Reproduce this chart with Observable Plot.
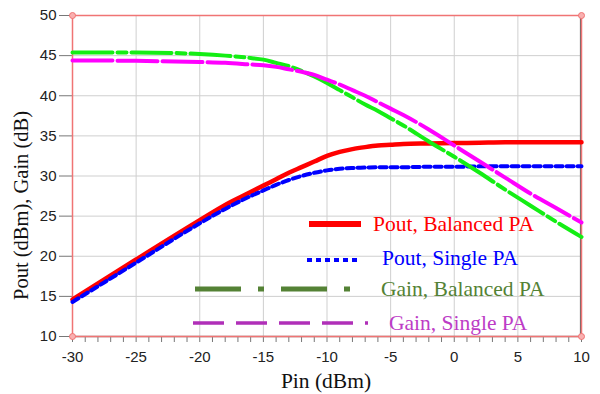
<!DOCTYPE html>
<html>
<head>
<meta charset="utf-8">
<script src="https://cdn.jsdelivr.net/npm/d3@7"></script>
<script src="https://cdn.jsdelivr.net/npm/@observablehq/plot@0.6"></script>
<style>
  html, body { margin: 0; padding: 0; background: #fff; }
  #chart { width: 600px; height: 394px; }
  svg [aria-label="x-axis tick"], svg [aria-label="y-axis tick"] { stroke: #777; }
  svg [aria-label="x-axis tick label"], svg [aria-label="y-axis tick label"] { fill: #222; }
</style>
</head>
<body>
<div id="chart"></div>
<script>
// ---- data ----
const pin = [-30, -25, -20, -18, -16, -15, -14, -13, -12, -11, -10, -9, -8, -7, -6, -5, -4, -2, 0, 2, 4, 6, 8, 10];
const poutBalanced = [14.6, 19.6, 24.5, 26.4, 28.0, 28.8, 29.6, 30.4, 31.1, 31.8, 32.5, 33.0, 33.35, 33.6, 33.8, 33.9, 34.0, 34.05, 34.1, 34.15, 34.2, 34.2, 34.2, 34.2];
const poutSingle   = [14.3, 19.2, 24.1, 25.9, 27.5, 28.2, 28.9, 29.5, 30.0, 30.4, 30.7, 30.9, 31.0, 31.05, 31.1, 31.1, 31.1, 31.15, 31.15, 31.2, 31.2, 31.2, 31.2, 31.2];
const gainBalanced = [45.4, 45.4, 45.2, 45.0, 44.7, 44.5, 44.1, 43.7, 43.1, 42.4, 41.6, 40.7, 39.8, 38.9, 38.1, 37.2, 36.3, 34.3, 32.4, 30.4, 28.3, 26.3, 24.3, 22.4];
const gainSingle   = [44.4, 44.35, 44.2, 44.1, 43.9, 43.8, 43.6, 43.3, 43.0, 42.6, 42.0, 41.4, 40.7, 40.0, 39.2, 38.4, 37.6, 35.8, 33.8, 31.8, 29.8, 27.8, 26.0, 24.2];
const seriesNames = ["Pout, Balanced PA", "Pout, Single PA", "Gain, Balanced PA", "Gain, Single PA"];
const xDomain = [-30, 10];
const yDomain = [10, 50];
const xTickLabels = [-30, -25, -20, -15, -10, -5, 0, 5, 10];
const yTickLabels = [10, 15, 20, 25, 30, 35, 40, 45, 50];
const xTitle = "Pin (dBm)";
const yTitle = "Pout (dBm), Gain (dB)";

// ---- tables built from the arrays ----
const rows = pin.map((p, i) => ({pin: p, pb: poutBalanced[i], ps: poutSingle[i], gb: gainBalanced[i], gs: gainSingle[i]}));
const corners = [];
for (const x of xDomain) for (const y of yDomain) corners.push({x, y});
const minorX = d3.range(xDomain[0], xDomain[1] + 1, 1);

const serif = "'Liberation Serif', 'Times New Roman', serif";
const frameColor = "#f07474";

const chart = Plot.plot({
  width: 600,
  height: 394,
  marginLeft: 72,
  marginRight: 19,
  marginTop: 15,
  marginBottom: 58,
  style: {fontFamily: "'Liberation Sans', Arial, sans-serif", fontSize: "15px", background: "#fff", overflow: "visible"},
  x: {domain: xDomain},
  y: {domain: yDomain},
  marks: [
    Plot.gridX(xTickLabels, {stroke: "#cfcfcf", strokeOpacity: 1, strokeWidth: 1}),
    Plot.gridY(yTickLabels, {stroke: "#cfcfcf", strokeOpacity: 1, strokeWidth: 1}),
    Plot.axisX({ticks: minorX, tickSize: 6, tickPadding: 9, fontSize: 15,
      tickFormat: d => (d % 5 === 0 ? String(d) : ""), label: null}),
    Plot.axisY({ticks: yTickLabels, tickSize: 13, tickPadding: 3, fontSize: 15,
      tickFormat: d => String(d), label: null}),
    Plot.ruleY([yDomain[0]], {stroke: "#888", strokeWidth: 1.5}),
    Plot.ruleX([xDomain[1]], {stroke: "#666", strokeWidth: 1.2, dx: -1}),
    Plot.frame({stroke: frameColor, strokeWidth: 1.5}),
    Plot.line(rows, {x: "pin", y: "pb", curve: "monotone-x", stroke: "#ff0000", strokeWidth: 4.5}),
    Plot.line(rows, {x: "pin", y: "ps", curve: "monotone-x", stroke: "#0000ff", strokeWidth: 4, strokeDasharray: "7,4"}),
    Plot.line(rows, {x: "pin", y: "gb", curve: "monotone-x", stroke: "#14ee14", strokeWidth: 4, strokeDasharray: "40,5,9,5"}),
    Plot.line(rows, {x: "pin", y: "gs", curve: "monotone-x", stroke: "#ff00ff", strokeWidth: 4, strokeDasharray: "40,5"}),
    Plot.dot(corners, {x: "x", y: "y", r: 3, stroke: frameColor, fill: "#f9b0b0", strokeWidth: 1}),
    Plot.text([xTitle], {frameAnchor: "bottom", lineAnchor: "bottom", textAnchor: "middle", dy: 51, dx: -1,
      fontFamily: serif, fontSize: 21.5, fill: "#111"}),
    Plot.text([yTitle], {frameAnchor: "left", textAnchor: "middle", rotate: -90, dx: -51, dy: 29.5,
      fontFamily: serif, fontSize: 20.5, fill: "#111"})
  ]
});

document.getElementById("chart").appendChild(chart);

// ---- legend (drawn inside the plot area, as in the reference) ----
const svg = d3.select(chart);
const legend = svg.append("g").attr("font-family", serif).attr("font-size", 21.5).attr("text-anchor", "start");
const legendItems = [
  {name: seriesNames[0], line: "#ff0000", text: "#ff0000", x1: 309, x2: 361, ly: 224, w: 6, dash: null, tx: 373, ty: 231},
  {name: seriesNames[1], line: "#0000ff", text: "#0000ff", x1: 307, x2: 358, ly: 260, w: 4, dash: "5,4", tx: 382, ty: 265},
  {name: seriesNames[2], line: "#548235", text: "#548235", x1: 195, x2: 350, ly: 289, w: 5, dash: "46,17,6,17", tx: 381, ty: 296},
  {name: seriesNames[3], line: "#b02fb8", text: "#bd3cc6", x1: 193, x2: 368, ly: 323, w: 3.5, dash: "31,12", tx: 389, ty: 329.5}
];
for (const it of legendItems) {
  legend.append("line")
    .attr("x1", it.x1).attr("x2", it.x2).attr("y1", it.ly).attr("y2", it.ly)
    .attr("stroke", it.line).attr("stroke-width", it.w)
    .attr("stroke-dasharray", it.dash);
  legend.append("text")
    .attr("x", it.tx).attr("y", it.ty).attr("fill", it.text)
    .attr("text-anchor", "start")
    .text(it.name);
}
</script>
</body>
</html>
